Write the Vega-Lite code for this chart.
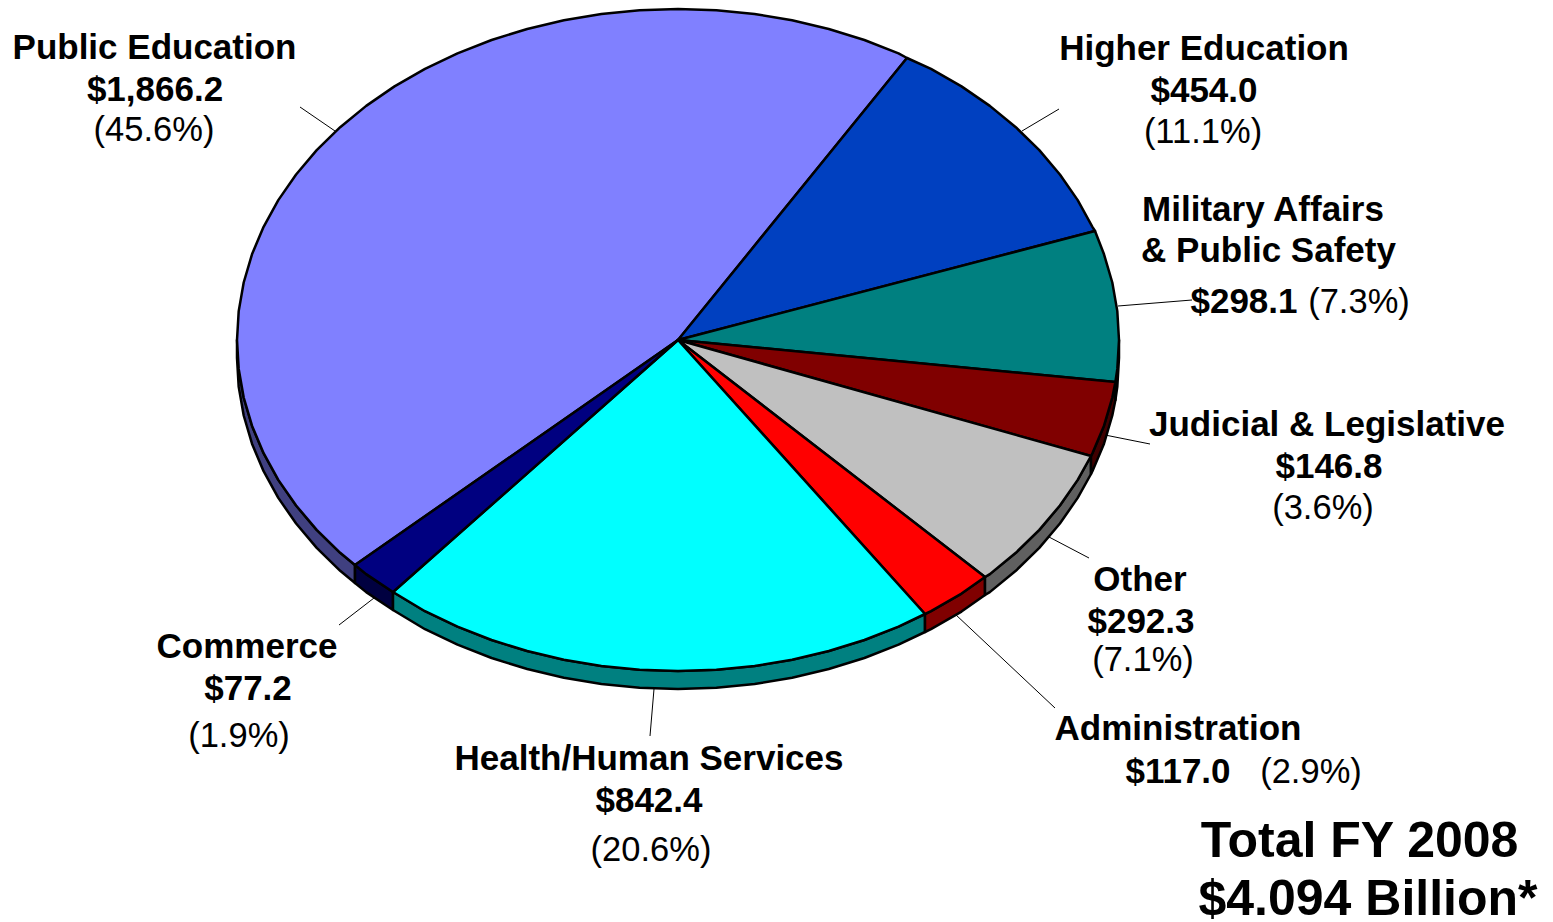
{"$schema":"https://vega.github.io/schema/vega-lite/v6.json","width":1553,"height":922,"padding":0,"autosize":"none","background":"white","config":{"view":{"stroke":null}},
"datasets":{
"slices":[
{"type":"Feature","properties":{"piece":"Public Education side"},"geometry":{"type":"Polygon","coordinates":[[[355,565],[340.2,552.8],[316.7,529.9],[296.1,505.5],[278.3,479.9],[263.6,453.2],[252,425.7],[243.7,397.5],[238.7,368.9],[237,340],[237,358],[238.7,386.9],[243.7,415.5],[252,443.7],[263.6,471.2],[278.3,497.9],[296.1,523.5],[316.7,547.9],[340.2,570.8],[355,583],[355,565]]]}},
{"type":"Feature","properties":{"piece":"Commerce side"},"geometry":{"type":"Polygon","coordinates":[[[355,565],[366.2,574.1],[393,592],[393,610],[366.2,592.1],[355,583],[355,565]]]}},
{"type":"Feature","properties":{"piece":"Health/Human Services side"},"geometry":{"type":"Polygon","coordinates":[[[393,592],[425,611.2],[457.5,626.6],[491.6,640],[527.2,651],[563.9,659.7],[601.4,666],[639.6,669.7],[678,671],[716.4,669.7],[754.6,666],[792.1,659.7],[828.8,651],[864.4,640],[898.5,626.6],[925,614],[925,632],[898.5,644.6],[864.4,658],[828.8,669],[792.1,677.7],[754.6,684],[716.4,687.7],[678,689],[639.6,687.7],[601.4,684],[563.9,677.7],[527.2,669],[491.6,658],[457.5,644.6],[425,629.2],[393,610],[393,592]]]}},
{"type":"Feature","properties":{"piece":"Administration side"},"geometry":{"type":"Polygon","coordinates":[[[925,614],[931,611.2],[961.5,593.6],[985,577],[985,595],[961.5,611.6],[931,629.2],[925,632],[925,614]]]}},
{"type":"Feature","properties":{"piece":"Other side"},"geometry":{"type":"Polygon","coordinates":[[[985,577],[989.8,574.1],[1015.8,552.8],[1039.3,529.9],[1059.9,505.5],[1077.7,479.9],[1091,456],[1091,474],[1077.7,497.9],[1059.9,523.5],[1039.3,547.9],[1015.8,570.8],[989.8,592.1],[985,595],[985,577]]]}},
{"type":"Feature","properties":{"piece":"Judicial & Legislative side"},"geometry":{"type":"Polygon","coordinates":[[[1091,456],[1092.4,453.2],[1104,425.7],[1112.3,397.5],[1115.4,382],[1115.4,400],[1112.3,415.5],[1104,443.7],[1092.4,471.2],[1091,474],[1091,456]]]}},
{"type":"Feature","properties":{"piece":"Military Affairs & Public Safety side"},"geometry":{"type":"Polygon","coordinates":[[[1115.4,382],[1117.3,368.9],[1119,340],[1119,358],[1117.3,386.9],[1115.4,400],[1115.4,382]]]}},
{"type":"Feature","properties":{"piece":"Public Education","amount":1866.2,"share":45.6},"geometry":{"type":"Polygon","coordinates":[[[678,340],[355,565],[340.2,552.8],[316.7,529.9],[296.1,505.5],[278.3,479.9],[263.6,453.2],[252,425.7],[243.7,397.5],[238.7,368.9],[237,340],[238.7,311.1],[243.7,282.5],[252,254.3],[263.6,226.8],[278.3,200.1],[296.1,174.5],[316.7,150.1],[340.2,127.2],[366.2,105.9],[394.5,86.4],[425,68.8],[457.5,53.4],[491.6,40],[527.2,29],[563.9,20.3],[601.4,14],[639.6,10.3],[678,9],[716.4,10.3],[754.6,14],[792.1,20.3],[828.8,29],[864.4,40],[898.5,53.4],[907,58],[678,340]]]}},
{"type":"Feature","properties":{"piece":"Higher Education","amount":454.0,"share":11.1},"geometry":{"type":"Polygon","coordinates":[[[678,340],[907,58],[931,68.8],[961.5,86.4],[989.8,105.9],[1015.8,127.2],[1039.3,150.1],[1059.9,174.5],[1077.7,200.1],[1092.4,226.8],[1095,231],[678,340]]]}},
{"type":"Feature","properties":{"piece":"Military Affairs & Public Safety","amount":298.1,"share":7.3},"geometry":{"type":"Polygon","coordinates":[[[678,340],[1095,231],[1104,254.3],[1112.3,282.5],[1117.3,311.1],[1119,340],[1117.3,368.9],[1115.4,382],[678,340]]]}},
{"type":"Feature","properties":{"piece":"Judicial & Legislative","amount":146.8,"share":3.6},"geometry":{"type":"Polygon","coordinates":[[[678,340],[1115.4,382],[1112.3,397.5],[1104,425.7],[1092.4,453.2],[1091,456],[678,340]]]}},
{"type":"Feature","properties":{"piece":"Other","amount":292.3,"share":7.1},"geometry":{"type":"Polygon","coordinates":[[[678,340],[1091,456],[1077.7,479.9],[1059.9,505.5],[1039.3,529.9],[1015.8,552.8],[989.8,574.1],[985,577],[678,340]]]}},
{"type":"Feature","properties":{"piece":"Administration","amount":117.0,"share":2.9},"geometry":{"type":"Polygon","coordinates":[[[678,340],[985,577],[961.5,593.6],[931,611.2],[925,614],[678,340]]]}},
{"type":"Feature","properties":{"piece":"Health/Human Services","amount":842.4,"share":20.6},"geometry":{"type":"Polygon","coordinates":[[[678,340],[925,614],[898.5,626.6],[864.4,640],[828.8,651],[792.1,659.7],[754.6,666],[716.4,669.7],[678,671],[639.6,669.7],[601.4,666],[563.9,659.7],[527.2,651],[491.6,640],[457.5,626.6],[425,611.2],[393,592],[678,340]]]}},
{"type":"Feature","properties":{"piece":"Commerce","amount":77.2,"share":1.9},"geometry":{"type":"Polygon","coordinates":[[[678,340],[393,592],[366.2,574.1],[355,565],[678,340]]]}}
],
"leaders":[
{"name":"Public Education","x":300,"y":107,"x2":335,"y2":131},
{"name":"Higher Education","x":1022,"y":131,"x2":1059,"y2":109},
{"name":"Military Affairs & Public Safety","x":1118,"y":306,"x2":1192,"y2":300},
{"name":"Judicial & Legislative","x":1105,"y":435,"x2":1150,"y2":444},
{"name":"Other","x":1049,"y":537,"x2":1089,"y2":558},
{"name":"Administration","x":955,"y":614,"x2":1055,"y2":708},
{"name":"Health/Human Services","x":654,"y":689,"x2":650,"y2":736},
{"name":"Commerce","x":374,"y":598,"x2":339,"y2":625}
],
"labels":[
{"kind":"bold","text":"Public Education","x":154.5,"y":59},
{"kind":"bold","text":"$1,866.2","x":155,"y":101},
{"kind":"plain","text":"(45.6%)","x":154,"y":141},
{"kind":"bold","text":"Higher Education","x":1204,"y":60},
{"kind":"bold","text":"$454.0","x":1204,"y":102},
{"kind":"plain","text":"(11.1%)","x":1203,"y":143},
{"kind":"bold","text":"Military Affairs","x":1263,"y":221},
{"kind":"bold","text":"& Public Safety","x":1268.5,"y":262},
{"kind":"bold","text":"$298.1","x":1244,"y":313},
{"kind":"plain","text":"(7.3%)","x":1359,"y":313},
{"kind":"bold","text":"Judicial & Legislative","x":1327,"y":436},
{"kind":"bold","text":"$146.8","x":1329,"y":478},
{"kind":"plain","text":"(3.6%)","x":1323,"y":519},
{"kind":"bold","text":"Other","x":1140,"y":591},
{"kind":"bold","text":"$292.3","x":1141,"y":633},
{"kind":"plain","text":"(7.1%)","x":1143,"y":671},
{"kind":"bold","text":"Administration","x":1178,"y":740},
{"kind":"bold","text":"$117.0","x":1178,"y":783},
{"kind":"plain","text":"(2.9%)","x":1311,"y":783},
{"kind":"bold","text":"Health/Human Services","x":649,"y":770},
{"kind":"bold","text":"$842.4","x":649,"y":812},
{"kind":"plain","text":"(20.6%)","x":651,"y":861},
{"kind":"bold","text":"Commerce","x":247,"y":658},
{"kind":"bold","text":"$77.2","x":248,"y":700},
{"kind":"plain","text":"(1.9%)","x":239,"y":747},
{"kind":"total","text":"Total FY 2008","x":1359.5,"y":857},
{"kind":"total","text":"$4.094 Billion*","x":1368,"y":915}
]},
"layer":[
{"data":{"name":"leaders"},"mark":{"type":"rule","color":"#000000","strokeWidth":1},
"encoding":{"x":{"field":"x","type":"quantitative","scale":{"domain":[0,1553]},"axis":null},"y":{"field":"y","type":"quantitative","scale":{"domain":[922,0]},"axis":null},"x2":{"field":"x2"},"y2":{"field":"y2"}}},
{"data":{"name":"slices"},"projection":{"type":"identity","scale":1,"translate":[0,0]},"mark":{"type":"geoshape","stroke":"#000000","strokeWidth":2.5,"strokeJoin":"round"},
"encoding":{"fill":{"field":"properties.piece","type":"nominal","legend":null,"scale":{"domain":["Public Education","Higher Education","Military Affairs & Public Safety","Judicial & Legislative","Other","Administration","Health/Human Services","Commerce","Public Education side","Military Affairs & Public Safety side","Judicial & Legislative side","Other side","Administration side","Health/Human Services side","Commerce side"],"range":["#8080ff","#0040c0","#008080","#800000","#c0c0c0","#ff0000","#00ffff","#000080","#404080","#004040","#400000","#606060","#800000","#008080","#000040"]}}}},
{"data":{"name":"labels"},"transform":[{"filter":"datum.kind === 'bold'"}],"mark":{"type":"text","font":"Liberation Sans","fontWeight":"bold","fontSize":35,"align":"center","baseline":"alphabetic","color":"#000000"},
"encoding":{"x":{"field":"x","type":"quantitative","scale":{"domain":[0,1553]},"axis":null},"y":{"field":"y","type":"quantitative","scale":{"domain":[922,0]},"axis":null},"text":{"field":"text"}}},
{"data":{"name":"labels"},"transform":[{"filter":"datum.kind === 'plain'"}],"mark":{"type":"text","font":"Liberation Sans","fontSize":34.5,"align":"center","baseline":"alphabetic","color":"#000000"},
"encoding":{"x":{"field":"x","type":"quantitative","scale":{"domain":[0,1553]},"axis":null},"y":{"field":"y","type":"quantitative","scale":{"domain":[922,0]},"axis":null},"text":{"field":"text"}}},
{"data":{"name":"labels"},"transform":[{"filter":"datum.kind === 'total'"}],"mark":{"type":"text","font":"Liberation Sans","fontWeight":"bold","fontSize":50,"align":"center","baseline":"alphabetic","color":"#000000"},
"encoding":{"x":{"field":"x","type":"quantitative","scale":{"domain":[0,1553]},"axis":null},"y":{"field":"y","type":"quantitative","scale":{"domain":[922,0]},"axis":null},"text":{"field":"text"}}}
]}
